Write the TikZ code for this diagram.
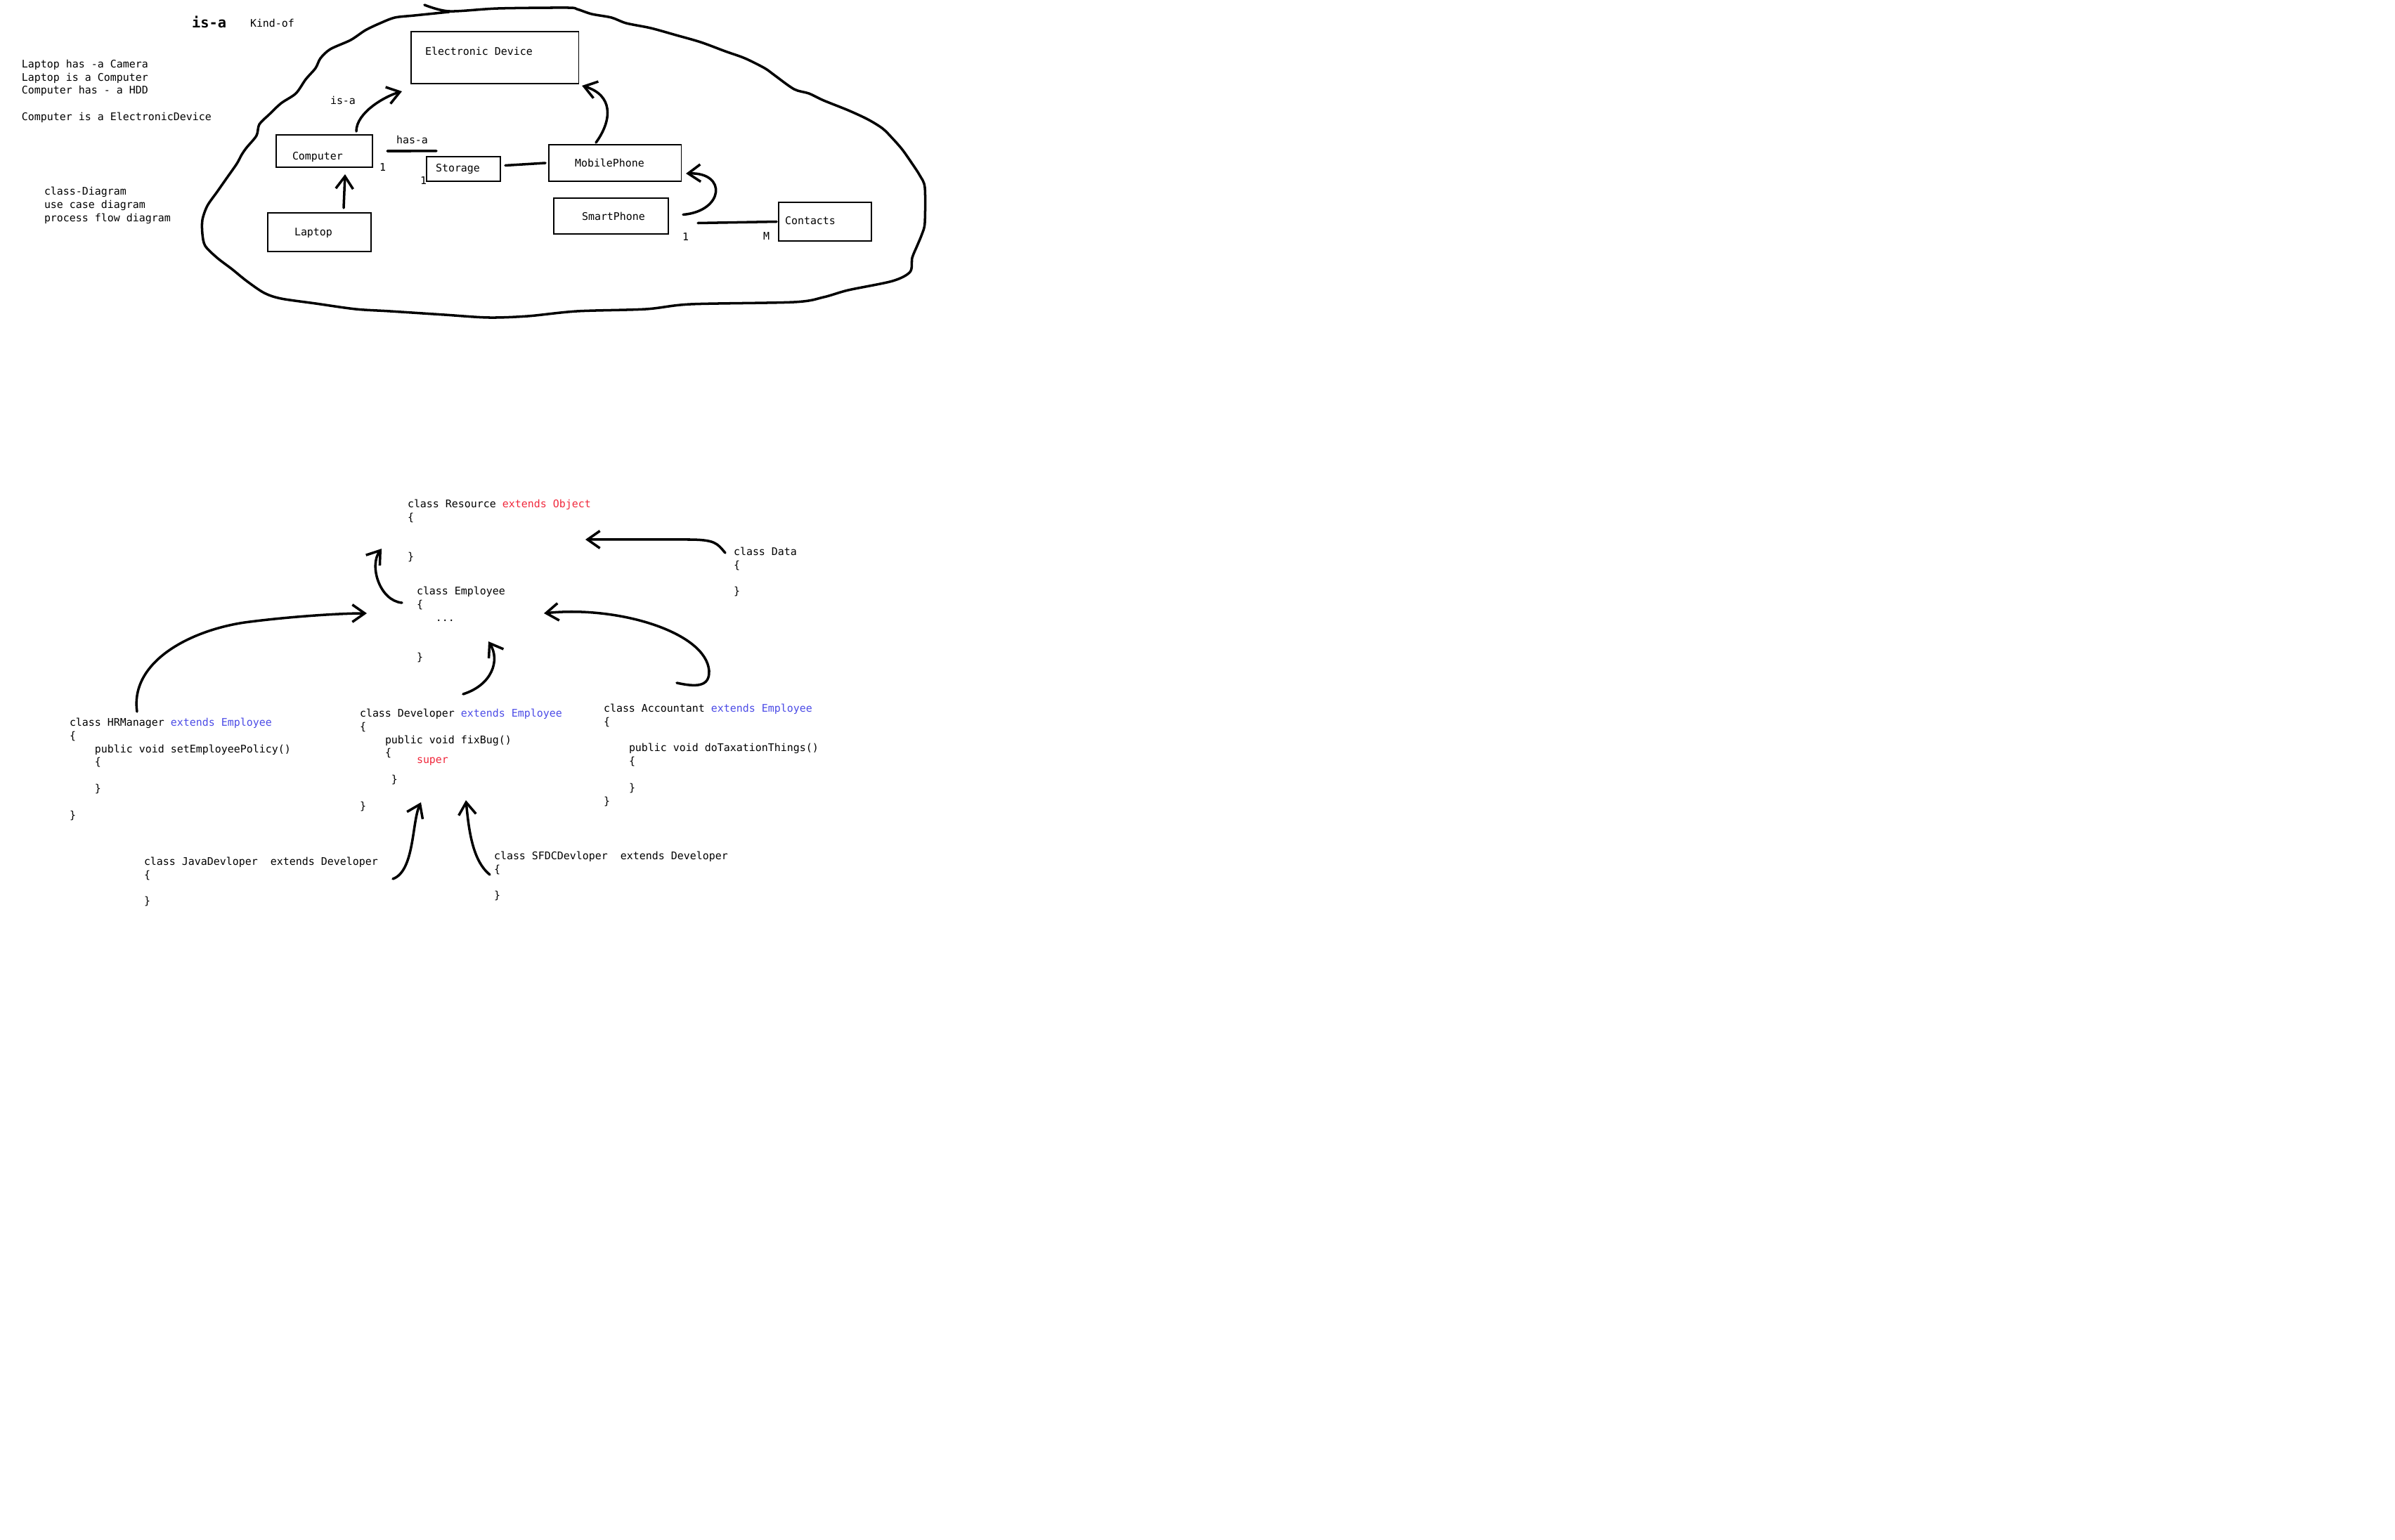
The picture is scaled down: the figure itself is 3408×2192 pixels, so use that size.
\documentclass[tikz,border=0pt]{standalone}
\usepackage{fontspec}
\setmonofont{DejaVu Sans Mono}
\usetikzlibrary{arrows.meta,calc}

\definecolor{kwred}{RGB}{240,40,60}
\definecolor{kwblue}{RGB}{75,75,230}

\begin{document}
\begin{tikzpicture}[x=0.01cm,y=-0.01cm,>={Straight Barb[length=5pt,width=7pt]},
  box/.style={draw,line width=0.35pt,inner sep=0pt,outer sep=0pt,anchor=north west},
  txt/.style={anchor=north west,inner sep=0pt,outer sep=0pt,align=left,
    font=\ttfamily\fontsize{4.25}{5.35}\selectfont},
  hand/.style={line width=1pt,line cap=round,line join=round}]
  \useasboundingbox (0,0) rectangle (3408,2192);

  % Notes on the left
  \node[txt,font=\ttfamily\bfseries\fontsize{5.8}{7}\selectfont] (isatitle) at (273,23) {is-a};
  \node[txt] (kindof) at (356,27) {Kind-of};
  \node[txt] (notes) at (31,85) {Laptop has -a Camera\\Laptop is a Computer\\Computer has - a HDD\\\mbox{}\\Computer is a ElectronicDevice};
  \node[txt] (diagrams) at (63,266) {class-Diagram\\use case diagram\\process flow diagram};

  % The cloud
  \draw[hand] plot[smooth,tension=0.5] coordinates {(604,7) (639,16) (709,12) (807,11) (821,13)
    (842,20) (870,25) (891,33) (926,40) (962,50) (997,60) (1032,73) (1060,83) (1088,97)
    (1102,107) (1130,127) (1151,133) (1172,143) (1207,157) (1235,170) (1256,183) (1270,197)
    (1284,213) (1298,233) (1309,250) (1316,267) (1316,317) (1312,333) (1305,350) (1298,367)
    (1295,387) (1270,400) (1207,413) (1172,423) (1130,430) (983,433) (919,440) (821,443)
    (751,450) (695,452) (632,448) (555,443) (506,440) (449,432) (400,425) (376,417) (351,400)
    (330,383) (309,367) (292,350) (288,333) (288,313) (295,293) (309,273) (323,253) (337,233)
    (344,220) (351,210) (365,193) (369,177) (383,163) (400,147) (421,133) (435,113) (449,97)
    (456,83) (470,70) (499,57) (520,43) (541,33) (562,25) (590,22) (639,17)};

  % Boxes
  \node[box,minimum width=2.38cm,minimum height=0.74cm] (ed) at (585,45) {};
  \node[box,minimum width=1.37cm,minimum height=0.46cm] (comp) at (393,192) {};
  \node[box,minimum width=1.47cm,minimum height=0.55cm] (laptop) at (381,303) {};
  \node[box,minimum width=1.05cm,minimum height=0.35cm] (storage) at (607,223) {};
  \node[box,minimum width=1.88cm,minimum height=0.52cm] (mobile) at (781,206) {};
  \node[box,minimum width=1.63cm,minimum height=0.51cm] (smart) at (788,282) {};
  \node[box,minimum width=1.32cm,minimum height=0.55cm] (contacts) at (1108,288) {};
  \node[txt] (edtxt) at (605,67) {Electronic Device};
  \node[txt] (comptxt) at (416,216) {Computer};
  \node[txt] (laptoptxt) at (419,325) {Laptop};
  \node[txt] (storagetxt) at (620,233) {Storage};
  \node[txt] (mobiletxt) at (818,226) {MobilePhone};
  \node[txt] (smarttxt) at (828,302) {SmartPhone};
  \node[txt] (contactstxt) at (1117,308) {Contacts};

  % Labels
  \node[txt] (isalbl) at (470,137) {is-a};
  \node[txt] (hasalbl) at (564,193) {has-a};
  \node[txt] (onecomp) at (540,233) {1};
  \node[txt] (onestorage) at (598,252) {1};
  \node[txt] (onesmart) at (971,332) {1};
  \node[txt] (manycontacts) at (1086,331) {M};

  % Links in the cloud
  \draw[hand,->] ($(comp.north west)+(114,-5)$) .. controls +(0,-27) and +(-24,7) .. ($(ed.south west)+(-13,11)$);
  \draw[hand,->] ($(laptop.north west)+(108,-7)$) -- ($(comp.south west)+(98,10)$);
  \draw[hand] ($(comp.east)+(21,0)$) -- ($(storage.north west)+(14,-8)$);
  \draw[hand] ($(storage.east)+(7,-5)$) -- ($(mobile.west)+(-5,0)$);
  \draw[hand,->] ($(mobile.north west)+(67,-3)$) .. controls +(24,-33) and +(44,13) .. ($(ed.south east)+(5,3)$);
  \draw[hand,->] ($(smart.east)+(21,-2)$) .. controls +(58,-5) and +(59,-2) .. ($(mobile.south east)+(7,-11)$);
  \draw[hand] ($(smart.east)+(42,10)$) -- ($(contacts.west)+(-3,0)$);

  % Classes
  \node[txt] (res) at (580,711) {class Resource \textcolor{kwred}{extends Object}\\\{\\\mbox{}\\\mbox{}\\\}};
  \node[txt] (data) at (1044,779) {class Data\\\{\\\mbox{}\\\}};
  \node[txt] (emp) at (593,835) {class Employee\\\{\\\hphantom{000}...\\\mbox{}\\\mbox{}\\\}};
  \node[txt] (hrm) at (99,1022) {class HRManager \textcolor{kwblue}{extends Employee}\\\{\\
    \hphantom{0000}public void setEmployeePolicy()\\\hphantom{0000}\{\\\mbox{}\\\hphantom{0000}\}\\\mbox{}\\\}};
  \node[txt] (dev) at (512,1009) {class Developer \textcolor{kwblue}{extends Employee}\\\{\\
    \hphantom{0000}public void fixBug()\\\hphantom{0000}\{\\\mbox{}\\\hphantom{00000}\}\\\mbox{}\\\}};
  \node[txt,text=kwred] (super) at (593,1078) {super};
  \node[txt] (acc) at (859,1002) {class Accountant \textcolor{kwblue}{extends Employee}\\\{\\\mbox{}\\
    \hphantom{0000}public void doTaxationThings()\\\hphantom{0000}\{\\\mbox{}\\\hphantom{0000}\}\\\}};
  \node[txt] (java) at (205,1220) {class JavaDevloper\hphantom{00}extends Developer\\\{\\\mbox{}\\\}};
  \node[txt] (sfdc) at (703,1212) {class SFDCDevloper\hphantom{00}extends Developer\\\{\\\mbox{}\\\}};

  % Inheritance arrows
  \draw[hand,->] ($(data.north west)+(-12,8)$) .. controls +(-12,-14) and +(40,0) .. ($(res.north west)+(398,57)$) -- ($(res.north west)+(253,57)$);
  \draw[hand,->] ($(emp.north west)+(-21,23)$) .. controls +(-32,-3) and +(-18,24) .. ($(res.north west)+(-37,70)$);
  \draw[hand,->] ($(hrm.north west)+(96,-9)$) .. controls +(-10,-70) and +(-80,12) .. (348,886) .. controls +(60,-8) and +(-40,0) .. ($(emp.north west)+(-71,38)$);
  \draw[hand,->] ($(dev.north west)+(147,-21)$) .. controls +(41,-13) and +(17,27) .. ($(emp.north west)+(102,78)$);
  \draw[hand,->] ($(acc.north west)+(104,-30)$) .. controls +(27,6) and +(1,23) .. (1009,955) .. controls +(-4,-55) and +(106,-11) .. ($(emp.north west)+(181,38)$);
  \draw[hand,->] ($(java.north west)+(354,31)$) .. controls +(31,-11) and +(-13,28) .. ($(dev.north west)+(87,133)$);
  \draw[hand,->] ($(sfdc.north west)+(-6,33)$) .. controls +(-25,-20) and +(4,41) .. ($(dev.north west)+(151,130)$);
\end{tikzpicture}
\end{document}
